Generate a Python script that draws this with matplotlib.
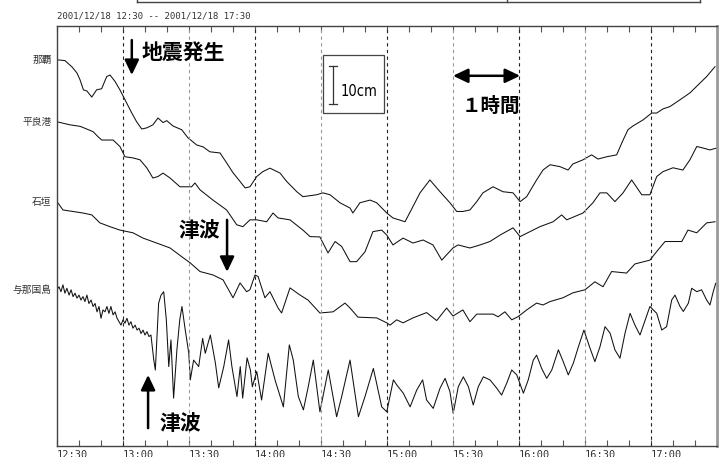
import matplotlib
matplotlib.use("Agg")
import matplotlib.pyplot as plt
from matplotlib.lines import Line2D
from matplotlib.patches import Rectangle

plt.rcParams['font.family'] = ['Noto Sans CJK JP', 'DejaVu Sans']

# tide gauge records, 2001/12/18 12:30-17:30 (minutes after 12:30, level in cm on the chart)
naha_t = [0, 3.6, 6.7, 9.0, 10.5, 12.0, 13.6, 15.8, 18.0, 20.3, 22.6, 24.1, 26.4, 28.6, 30.9,
          34.0, 36.2, 38.5, 40.8, 43.6, 45.9, 48.2, 49.9, 52.7, 56.7, 59.5, 63.5, 66.4, 69.5,
          74.1, 77.1, 80.0, 83.2, 85.5, 87.7, 90.8, 93.6, 96.8, 101.4, 104.4, 109.0, 111.8,
          118.0, 120.9, 124.1, 128.6, 133.2, 134.5, 137.7, 142.3, 145.3, 149.9, 152.7, 158.2,
          161.8, 165.0, 169.5, 174.1, 178.6, 181.7, 184.5, 187.7, 190.8, 193.6, 198.2, 202.7,
          207.3, 210.5, 213.5, 218.0, 220.9, 224.1, 228.6, 232.3, 234.5, 239.1, 243.0, 245.9,
          249.9, 254.4, 256.7, 259.5, 261.8, 266.4, 270.3, 272.6, 275.5, 278.6, 283.2, 287.7,
          292.3, 295.3, 299.1]
naha_h = [101.6, 101.4, 99.8, 98.2, 96.3, 93.7, 93.4, 91.8, 93.7, 94.0, 97.2, 97.6, 95.9, 93.7,
          91.1, 87.6, 85.3, 83.4, 83.7, 84.5, 86.3, 85.1, 85.6, 84.2, 83.2, 81.1, 79.2, 78.7,
          77.4, 77.1, 74.5, 71.9, 69.6, 67.9, 68.2, 70.9, 72.2, 73.1, 71.8, 69.6, 66.9, 65.6,
          66.1, 66.6, 66.1, 64.0, 62.6, 61.3, 64.0, 64.7, 64.0, 61.3, 60.0, 59.0, 63.0, 66.6,
          70.0, 66.9, 64.0, 61.7, 61.7, 62.1, 64.3, 66.6, 68.2, 66.9, 66.6, 64.3, 65.6, 70.0,
          72.6, 74.0, 73.5, 72.6, 74.2, 75.3, 76.6, 75.5, 76.1, 76.6, 79.7, 83.2, 84.2, 85.8,
          87.6, 87.6, 88.7, 89.3, 91.1, 92.9, 95.5, 97.2, 99.8]

hirara_t = [0, 5.9, 10.5, 13.5, 16.4, 18.6, 20.3, 25.5, 28.6, 30.9, 34.5, 37.7, 40.8, 43.6,
            45.9, 48.2, 51.4, 55.9, 61.2, 62.7, 65.0, 70.9, 77.1, 81.7, 84.5, 87.7, 90.8, 95.3,
            98.2, 100.5, 105.9, 111.8, 115.0, 119.5, 123.2, 126.4, 129.4, 133.2, 136.2, 140.0,
            143.6, 147.6, 149.9, 152.7, 157.3, 161.8, 166.4, 170.9, 174.9, 177.1, 180.0, 182.3,
            187.7, 192.3, 196.8, 201.4, 207.3, 210.5, 219.5, 225.5, 229.4, 231.7, 239.1, 243.6,
            246.8, 249.9, 253.6, 257.3, 261.2, 265.8, 269.5, 272.6, 275.5, 280.0, 284.5, 287.7,
            290.8, 293.6, 296.8, 299.9]
hirara_h = [85.3, 84.5, 84.1, 83.4, 82.7, 81.4, 80.5, 80.5, 78.8, 76.1, 75.8, 75.3, 73.2, 70.5,
            70.9, 71.8, 70.5, 68.2, 68.2, 69.2, 67.4, 64.7, 62.1, 58.2, 57.7, 59.5, 59.5, 59.0,
            61.3, 60.0, 59.5, 56.8, 55.1, 55.0, 50.8, 53.8, 52.5, 48.5, 48.5, 51.1, 56.4, 56.8,
            55.5, 52.9, 54.7, 53.4, 54.2, 52.9, 48.9, 50.3, 52.1, 52.9, 52.1, 52.9, 53.8, 55.5,
            57.4, 55.1, 57.7, 59.0, 60.8, 59.5, 61.3, 64.0, 66.6, 66.6, 64.3, 66.6, 70.0, 66.1,
            66.1, 70.9, 72.2, 73.2, 72.6, 75.3, 78.8, 78.4, 77.9, 78.4]

ishigaki_t = [0, 2.7, 7.3, 11.8, 15.8, 19.5, 24.1, 28.6, 34.5, 39.1, 45.3, 51.4, 56.7, 60.5,
              65.0, 70.9, 75.5, 80.0, 83.2, 86.2, 87.7, 90.0, 91.4, 94.5, 96.8, 100.5, 102.1,
              105.9, 110.5, 114.1, 119.5, 125.5, 130.9, 133.2, 136.8, 145.3, 149.9, 151.4,
              154.4, 157.3, 161.8, 168.0, 172.6, 177.1, 180.0, 184.5, 187.7, 190.8, 198.2,
              200.5, 203.6, 206.7, 209.5, 213.5, 218.0, 220.9, 224.1, 230.0, 234.5, 240.0,
              244.5, 248.2, 252.1, 258.9, 262.7, 269.5, 273.2, 276.4, 284.0, 286.8, 290.8,
              295.3, 299.1]
ishigaki_h = [64.3, 62.1, 61.7, 61.3, 60.8, 58.7, 57.7, 56.8, 56.1, 54.7, 53.4, 52.1, 49.8, 48.2,
              45.9, 45.0, 43.7, 39.0, 42.9, 40.6, 41.1, 45.0, 44.6, 39.0, 40.6, 36.3, 35.0, 41.6,
              39.7, 38.4, 35.0, 35.3, 37.6, 36.3, 33.9, 33.7, 32.4, 31.8, 33.2, 32.4, 33.7, 35.1,
              33.0, 36.3, 34.2, 35.8, 32.7, 34.7, 34.7, 34.0, 35.3, 33.2, 34.0, 35.8, 37.6, 37.1,
              38.0, 39.0, 40.3, 41.1, 43.2, 41.9, 45.9, 45.5, 47.9, 48.9, 51.6, 53.8, 53.8, 56.8,
              56.1, 58.7, 59.0]

yonaguni_t = [0, 0.9, 1.8, 2.7, 3.6, 4.5, 5.5, 6.4, 7.3, 8.2, 9.1, 10.0, 10.9, 11.8, 12.7, 13.6,
              14.5, 15.5, 16.4, 17.3, 18.2, 19.1, 20.0, 20.9, 21.8, 22.7, 23.6, 24.5, 25.5, 26.4,
              27.3, 28.2, 29.1, 30.0, 30.9, 31.8, 32.7, 33.6, 34.5, 35.5, 36.4, 37.3, 38.2, 39.1,
              40.0, 40.9, 41.8, 42.7, 44.0, 44.7, 46.2, 47.3, 48.5, 49.7, 50.8, 51.8, 53.0, 54.5,
              55.8, 56.8, 58.3, 59.9, 60.6, 62.1, 64.4, 66.2, 67.4, 69.7, 72.0, 73.5, 75.8, 78.0,
              79.5, 81.8, 83.3, 84.4, 86.4, 87.9, 88.8, 90.8, 93.0, 96.0, 99.1, 102.9, 105.6,
              107.4, 109.7, 112.0, 114.2, 116.5, 119.5, 123.3, 127.1, 129.4, 133.2, 137.0, 140.0,
              143.8, 147.6, 149.9, 152.9, 154.4, 157.4, 160.5, 163.5, 166.2, 168.0, 171.0, 174.1,
              176.4, 178.6, 180.1, 182.4, 184.7, 187.0, 189.2, 191.5, 193.8, 196.8, 199.9, 202.1,
              204.4, 206.7, 209.0, 212.0, 214.2, 216.5, 218.0, 220.3, 222.6, 224.9, 227.9, 230.1,
              232.4, 234.7, 237.0, 239.5, 242.3, 244.5, 246.8, 249.1, 251.4, 253.6, 255.9, 258.2,
              260.5, 262.7, 265.0, 269.5, 272.6, 274.9, 277.1, 279.4, 280.9, 283.2, 284.7, 287.0,
              288.5, 290.8, 293.0, 295.3, 296.8, 298.3, 299.4]
yonaguni_h = [41.1, 41.9, 40.6, 42.4, 40.2, 41.5, 39.7, 41.1, 39.3, 40.2, 38.9, 39.7, 38.4, 39.3,
              38.0, 39.7, 37.5, 38.4, 36.7, 37.5, 35.3, 36.7, 33.6, 35.8, 35.3, 36.7, 34.9, 36.7,
              34.5, 35.3, 33.6, 32.7, 31.8, 33.2, 32.3, 33.6, 31.8, 32.7, 31.0, 31.8, 30.5, 31.0,
              29.6, 30.5, 29.2, 30.1, 28.8, 29.2, 22.6, 20.0, 37.6, 39.7, 40.6, 33.2, 20.9, 27.9,
              12.6, 25.3, 33.2, 36.7, 30.5, 24.4, 17.4, 22.6, 20.9, 28.3, 24.4, 29.2, 21.8, 15.3,
              20.9, 27.9, 20.9, 13.0, 20.9, 12.6, 23.2, 20.0, 15.6, 19.6, 12.1, 24.4, 17.4, 10.3,
              26.6, 22.6, 13.0, 9.5, 15.6, 22.6, 9.0, 20.0, 7.7, 13.0, 22.6, 7.7, 13.0, 20.4,
              10.3, 9.0, 17.4, 16.1, 13.9, 10.3, 14.7, 17.4, 12.1, 9.9, 15.2, 17.8, 14.3, 8.6,
              15.6, 18.2, 15.6, 10.8, 15.6, 18.2, 17.4, 15.2, 13.4, 16.5, 20.0, 18.7, 13.9, 17.4,
              22.6, 23.9, 20.4, 17.8, 20.0, 25.3, 22.2, 18.7, 21.8, 26.1, 30.5, 25.7, 22.2, 26.1,
              31.4, 29.7, 25.3, 23.1, 29.7, 34.9, 31.8, 29.2, 36.7, 34.9, 30.5, 31.4, 38.4, 39.7,
              36.7, 35.4, 37.6, 41.5, 40.6, 41.1, 38.4, 37.1, 40.6, 42.8]

stations = ['那覇', '平良港', '石垣', '与那国島']
time_labels = ['12:30', '13:00', '13:30', '14:00', '14:30', '15:00', '15:30', '16:00', '16:30', '17:00']

fig = plt.figure(figsize=(7.23, 4.57), dpi=100)
ax = fig.add_axes([57 / 723, 11 / 457, 660 / 723, 420 / 457])

series = [(naha_t, naha_h), (hirara_t, hirara_h), (ishigaki_t, ishigaki_h), (yonaguni_t, yonaguni_h)]
for name, (t, h) in zip(stations, series):
    ax.plot(t, h, color='#111111', lw=0.75)
    ax.text(-0.008, h[0], name, transform=ax.get_yaxis_transform(), ha='right', va='center',
            fontsize=7, color='#333333')

# half-hour guide lines
for i, m in enumerate(range(30, 300, 30)):
    ax.axvline(m, color='#222222' if i % 2 == 0 else '#999999', lw=0.8, ls=(0, (3, 3)))

ax.set_xlim(0, 300)
ax.set_ylim(0, 110.5)
ax.set_yticks([])
ax.set_xticks(range(0, 300, 30))
ax.set_xticklabels(time_labels, family='DejaVu Sans Mono', fontsize=7.5, color='#333333', ha='left')
ax.set_xticks(range(0, 301, 10), minor=True)
ax.tick_params(axis='x', which='both', direction='in', top=True, length=4.3, width=0.8,
               color='#555555', pad=3)
for side in ['top', 'bottom', 'left']:
    ax.spines[side].set_color('#444444')
    ax.spines[side].set_linewidth(1)
ax.spines['right'].set_color('#999999')
ax.spines['right'].set_linewidth(2)

arrow = dict(arrowstyle='-|>,head_length=0.9,head_width=0.43', lw=1.8, color='k',
             shrinkA=0, shrinkB=0)

# earthquake
ax.annotate('', xy=(34, 97.6), xytext=(34, 106.8), arrowprops=arrow)
ax.text(38.6, 103.7, '地震発生', fontsize=15, fontweight='bold', ha='left', va='center')

# 10 cm scale
ax.add_patch(Rectangle((120.9, 87.6), 27.7, 15.3, fill=False, ec='#444444', lw=0.9))
ax.plot([125.5, 125.5], [90, 100], color='#333333', lw=0.9)
ax.plot([123.7, 127.3], [100, 100], color='#333333', lw=0.9)
ax.plot([123.7, 127.3], [90, 90], color='#333333', lw=0.9)
ax.text(128.8, 93.2, '10cm', family='DejaVu Sans', fontstretch='condensed', fontsize=10.5,
        ha='left', va='center')

# one hour
ax.annotate('', xy=(210.5, 97.4), xytext=(180.0, 97.4),
            arrowprops=dict(arrow, arrowstyle='<|-|>,head_length=0.9,head_width=0.43'))
ax.text(197.3, 89.2, '１時間', fontsize=14, fontweight='bold', ha='center', va='center')

# tsunami arrivals
ax.annotate('', xy=(77.3, 45.8), xytext=(77.3, 59.5), arrowprops=arrow)
ax.text(64.5, 56.8, '津波', fontsize=15, fontweight='bold', ha='center', va='center')
ax.annotate('', xy=(41.4, 18.7), xytext=(41.4, 4.7), arrowprops=arrow)
ax.text(56.2, 5.8, '津波', fontsize=15, fontweight='bold', ha='center', va='center')

fig.text(57 / 723, 1 - 16 / 457, '2001/12/18 12:30 -- 2001/12/18 17:30', family='DejaVu Sans Mono',
         fontsize=6.5, color='#333333', va='center', ha='left')

# edge of the table above the chart
W, H = 723, 457
fig.add_artist(Line2D([137 / W, 700 / W], [1 - 1.5 / H, 1 - 1.5 / H], color='#444444', lw=1))
for xp in [137, 507, 700]:
    fig.add_artist(Line2D([xp / W, xp / W], [1 - 1.5 / H, 1], color='#444444', lw=1))

fig.savefig('out.png', dpi=100)
